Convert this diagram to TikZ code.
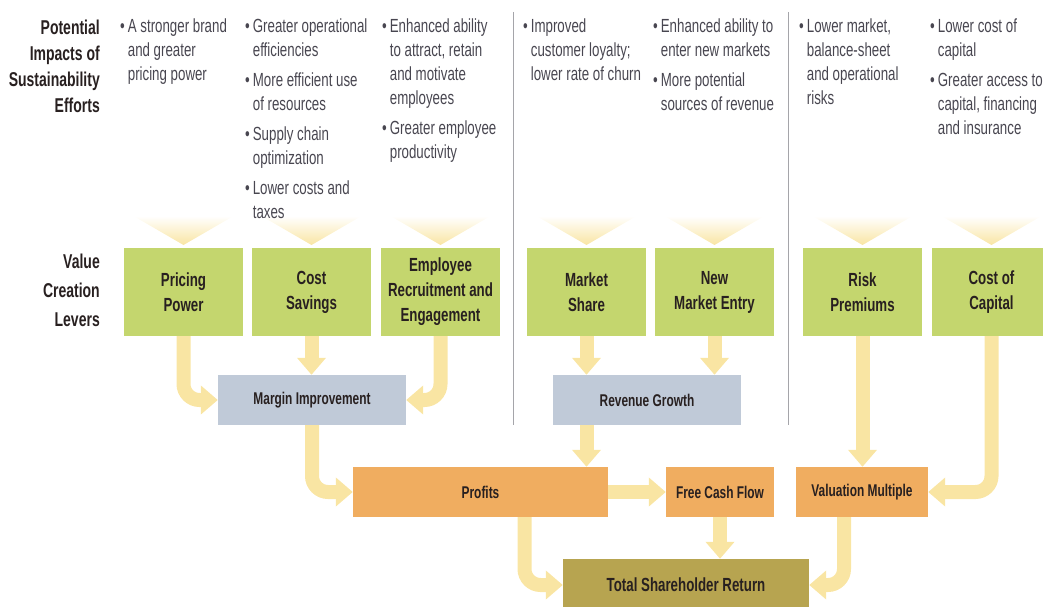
\documentclass[tikz,border=0pt]{standalone}
\usepackage{fontspec}
\setmainfont[FakeStretch=0.7]{Liberation Sans}
\usetikzlibrary{arrows.meta}

\definecolor{levergreen}{RGB}{196,214,110}
\definecolor{driverblue}{RGB}{192,202,216}
\definecolor{resultorange}{RGB}{240,173,96}
\definecolor{tsrolive}{RGB}{183,164,80}
\definecolor{flowyellow}{RGB}{249,229,163}
\definecolor{inktext}{RGB}{72,70,80}
\definecolor{boxtext}{RGB}{40,32,32}
\definecolor{sepgray}{RGB}{165,165,170}

\begin{document}
\begin{tikzpicture}[x=1pt,y=-1pt,
  heading/.style={anchor=north east, inner sep=0, align=right, text=boxtext,
    font=\bfseries\fontsize{20}{26}\selectfont},
  impacts/.style={anchor=north west, inner sep=0, text=inktext,
    font=\fontsize{19}{24}\selectfont},
  lever/.style={fill=levergreen, minimum width=119pt, minimum height=88pt,
    inner sep=0, align=center, text=boxtext,
    font=\bfseries\fontsize{19}{25}\selectfont},
  driver/.style={fill=driverblue, minimum width=188pt, minimum height=50pt,
    inner sep=0, text=boxtext, font=\bfseries\fontsize{17}{20}\selectfont},
  result/.style={fill=resultorange, minimum height=50pt,
    inner sep=0, text=boxtext, font=\bfseries\fontsize{17}{20}\selectfont},
  flow/.style={draw=flowyellow, line width=14pt, rounded corners=16pt,
    -{Triangle[length=17pt,width=28pt]}},
  sepline/.style={draw=sepgray, line width=1.5pt}]

\useasboundingbox (0,0) rectangle (1043,607);
\clip (0,0) rectangle (1043,607);

% value creation levers with their chevrons
\foreach \x/\nm/\txt in {183.5/price/{Pricing\\Power}, 311.5/cost/{Cost\\Savings},
    440.5/staff/{Employee\\Recruitment and\\Engagement}, 586.5/share/{Market\\Share},
    714.5/entry/{New\\Market Entry}, 862.5/risk/{Risk\\Premiums},
    991.5/capital/{Cost of\\Capital}}
{
\shade[top color=white, bottom color=flowyellow] (\x-50,216) -- (\x+50,216) -- (\x,245) -- cycle;
\node[lever] (\nm) at (\x,292) {\txt};
}

% row labels
\node[heading] (effortslabel) at (100,20) {Potential\\Impacts of\\Sustainability\\Efforts};
\node[heading, font=\bfseries\fontsize{20}{29}\selectfont] (leverslabel) at (100,254) {Value\\Creation\\Levers};

% impacts, one column per lever
\node[impacts] (imp1) at (120,16) {\begin{tabular}[t]{@{}l@{\hspace{3pt}}l@{}}
  \textbullet & A stronger brand\\ & and greater\\ & pricing power\end{tabular}};
\node[impacts] (imp2) at (245,16) {\begin{tabular}[t]{@{}l@{\hspace{3pt}}l@{}}
  \textbullet & Greater operational\\ & efficiencies\\[6pt]
  \textbullet & More efficient use\\ & of resources\\[6pt]
  \textbullet & Supply chain\\ & optimization\\[6pt]
  \textbullet & Lower costs and\\ & taxes\end{tabular}};
\node[impacts] (imp3) at (382,16) {\begin{tabular}[t]{@{}l@{\hspace{3pt}}l@{}}
  \textbullet & Enhanced ability\\ & to attract, retain\\ & and motivate\\ & employees\\[6pt]
  \textbullet & Greater employee\\ & productivity\end{tabular}};
\node[impacts] (imp4) at (523,16) {\begin{tabular}[t]{@{}l@{\hspace{3pt}}l@{}}
  \textbullet & Improved\\ & customer loyalty;\\ & lower rate of churn\end{tabular}};
\node[impacts] (imp5) at (653,16) {\begin{tabular}[t]{@{}l@{\hspace{3pt}}l@{}}
  \textbullet & Enhanced ability to\\ & enter new markets\\[6pt]
  \textbullet & More potential\\ & sources of revenue\end{tabular}};
\node[impacts] (imp6) at (799,16) {\begin{tabular}[t]{@{}l@{\hspace{3pt}}l@{}}
  \textbullet & Lower market,\\ & balance-sheet\\ & and operational\\ & risks\end{tabular}};
\node[impacts] (imp7) at (930,16) {\begin{tabular}[t]{@{}l@{\hspace{3pt}}l@{}}
  \textbullet & Lower cost of\\ & capital\\[6pt]
  \textbullet & Greater access to\\ & capital, financing\\ & and insurance\end{tabular}};

\draw[sepline] (513.5,12) -- (513.5,425);
\draw[sepline] (788.5,12) -- (788.5,425);

\node[driver] (margin) at (312,400) {Margin Improvement};
\node[driver] (revenue) at (647,400) {Revenue Growth};

\node[result, minimum width=255pt] (profits) at (480.5,492) {Profits};
\node[result, minimum width=108pt] (cashflow) at (720,492) {Free Cash Flow};
\node[result, minimum width=132pt] (multiple) at (862,492) {Valuation Multiple};

\node[fill=tsrolive, minimum width=246pt, minimum height=52pt, inner sep=0,
  text=boxtext, font=\bfseries\fontsize{19}{22}\selectfont] (tsr) at (686,585) {Total Shareholder Return};

% flows
\draw[flow] (price.south) |- (margin.west);
\draw[flow] (cost.south) -- (cost.south |- margin.north);
\draw[flow] (staff.south) |- (margin.east);
\draw[flow] (share.south) -- (share.south |- revenue.north);
\draw[flow] (entry.south) -- (entry.south |- revenue.north);
\draw[flow] (margin.south) |- (profits.west);
\draw[flow] (revenue.south -| share.south) -- (profits.north -| share.south);
\draw[flow] (profits.east) -- (cashflow.west);
\draw[flow] (risk.south) -- (risk.south |- multiple.north);
\draw[flow] (capital.south) |- (multiple.east);
\draw[flow] ([xshift=44pt]profits.south) |- (tsr.west);
\draw[flow] (cashflow.south) -- (cashflow.south |- tsr.north);
\draw[flow] ([xshift=-18pt]multiple.south) |- (tsr.east);

\end{tikzpicture}
\end{document}
